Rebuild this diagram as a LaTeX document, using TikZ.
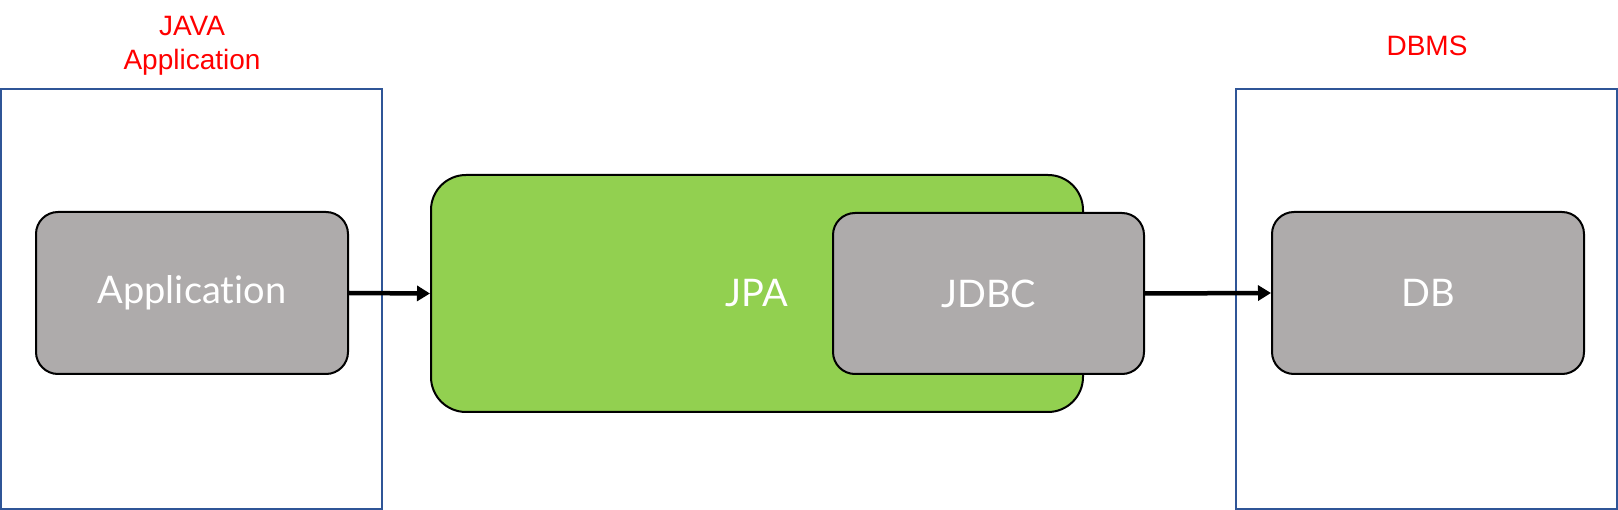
\documentclass[tikz,border=0pt]{standalone}
\usepackage{fontspec}
\setmainfont{Liberation Sans}
\newfontfamily\latofont[Ligatures={NoCommon,NoRare,NoContextual}]{Lato}
\usetikzlibrary{arrows.meta}
\definecolor{boxblue}{HTML}{2F5597}
\definecolor{nodegray}{HTML}{AEABAB}
\definecolor{jpagreen}{HTML}{92D050}
\definecolor{labelred}{HTML}{FF0000}
\tikzset{
  frame/.style={draw=boxblue, line width=1.8pt},
  graybox/.style={draw=black, line width=2pt, fill=nodegray, rounded corners=22pt,
    inner sep=0pt, text=white, font=\latofont\fontsize{38}{44}\selectfont},
  greenbox/.style={draw=black, line width=2pt, fill=jpagreen, rounded corners=35pt,
    inner sep=0pt, text=white, font=\latofont\fontsize{38}{44}\selectfont},
  redlabel/.style={text=labelred, align=center, inner sep=0pt,
    font=\fontsize{28}{34}\selectfont},
  flow/.style={line width=4.5pt, -{Triangle[length=13pt,width=15pt]}}
}
\begin{document}
\begin{tikzpicture}[x=1pt,y=-1pt]
\useasboundingbox (0,0) rectangle (1618,510);
\draw[frame] (1,89) rectangle (382,509);
\draw[frame] (1236,89) rectangle (1617,509);
\node[redlabel] (lj) at (192,46) {JAVA\\Application};
\node[redlabel] (ld) at (1427,46) {DBMS};
\node[graybox, minimum width=312pt, minimum height=162pt] (app) at (192,293) {Application};
\node[greenbox, minimum width=652pt, minimum height=237pt] (jpa) at (757,293.5) {JPA};
\node[graybox, minimum width=311pt, minimum height=161pt] (jdbc) at (988.5,293.5) {JDBC};
\node[graybox, minimum width=312pt, minimum height=162pt] (db) at (1428,293) {DB};
\draw[flow] (app.east) -- (jpa.west);
\draw[flow] (jdbc.east) -- (db.west);
\end{tikzpicture}
\end{document}
